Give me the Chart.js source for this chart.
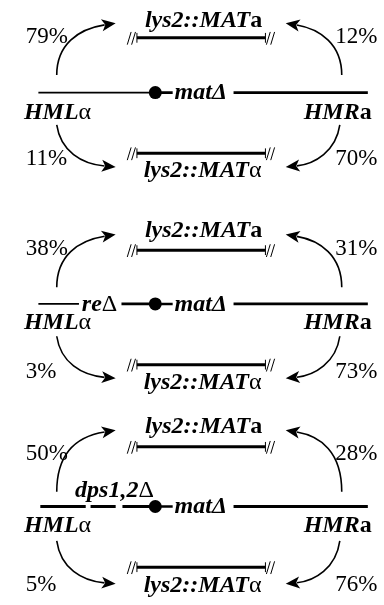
<!DOCTYPE html>
<html><head><meta charset="utf-8">
<script src="https://cdn.jsdelivr.net/npm/chart.js@4/dist/chart.umd.min.js"></script>
<style>html,body{margin:0;padding:0;background:#fff;overflow:hidden}canvas{display:block}</style>
</head><body><canvas id="c" width="384" height="605"></canvas>
<script>
// ---- data ----
const strains = ['wild type', 'reΔ', 'dps1,2Δ'];
const hmlToMATa = [79, 38, 50];       // HMLα -> lys2::MATa (top left)
const hmrToMATa = [12, 31, 28];       // HMRa -> lys2::MATa (top right)
const hmlToMATalpha = [11, 3, 5];     // HMLα -> lys2::MATα (bottom left)
const hmrToMATalpha = [70, 73, 76];   // HMRa -> lys2::MATα (bottom right)
const donorLeft = [['HML', 'bi'], ['α', 'r']];
const donorRight = [['HMR', 'bi'], ['a', 'b']];
const recipTop = [['lys2::MAT', 'bi'], ['a', 'b']];
const recipBottom = [['lys2::MAT', 'bi'], ['α', 'r']];
const matLabel = [['matΔ', 'bi']];
const deletionLabels = [null, [['re', 'bi'], ['Δ', 'r']], [['dps1,2', 'bi'], ['Δ', 'r']]];
const xRange = [0, 384];
const yRange = [0, 605];

// ---- layout (pixel geometry of each panel) ----
const G = [
  {tt:21, tb:32, pt:37, as:70, at:17, m:88, lb:115, bs:121, pb:162, bb:150, bt:174, ab:164},
  {tt:236, tb:249, pt:254, as:287, at:233, m:304, lb:330, bs:337, pb:380, bb:366, bt:391, ab:380},
  {tt:436, tb:450, pt:463, as:496, at:433, m:511, lb:537, bs:546, pb:597, bb:573, bt:598, ab:590}
];
const X = {lineL:33, lineR:374, dot:154, matL:174, gapR:235, barL:135, barR:268, pctL:20, pctR:384,
  hmlX:18, hmrX:378, arrL:52, arrR:347, tipL:113, tipR:289, textC:204};

const datasets = [];
function seg(x1, x2, y, w) {
  datasets.push({type:'line', data:[{x:x1,y:y},{x:x2,y:y}], borderColor:'#000', borderWidth:w,
    pointRadius:0, showLine:true, borderCapStyle:'butt', fill:false});
}
G.forEach((g, i) => {
  if (i === 0) seg(X.lineL, X.dot, g.m, 1.8);
  if (i === 1) { seg(X.lineL, 75, g.m, 1.8); seg(119, X.dot, g.m, 2.8); }
  if (i === 2) { seg(35, 82, g.m, 3); seg(87, 113, g.m, 3); seg(120, X.dot, g.m, 3); }
  seg(X.dot, X.matL - 2, g.m, 2.6);
  seg(X.gapR, X.lineR, g.m, 2.8);
  seg(X.barL, X.barR, g.tb, 3);
  seg(X.barL, X.barR, g.bb, 3);
  datasets.push({type:'scatter', data:[{x:X.dot, y:g.m}], pointRadius:6.5, pointBackgroundColor:'#000',
    pointBorderColor:'#000', borderWidth:0});
});

const FS = 24;
const FONTS = {bi:`bold italic ${FS}px "Liberation Serif"`, b:`bold ${FS}px "Liberation Serif"`,
  r:`${FS}px "Liberation Serif"`, i:`italic ${FS}px "Liberation Serif"`};
function runs(ctx, parts, x, y, align) {
  let w = 0;
  parts.forEach(p => { ctx.font = FONTS[p[1]]; w += ctx.measureText(p[0]).width; });
  let cx = align === 'center' ? x - w / 2 : align === 'right' ? x - w : x;
  ctx.textAlign = 'left'; ctx.textBaseline = 'alphabetic';
  parts.forEach(p => { ctx.font = FONTS[p[1]]; ctx.fillText(p[0], cx, y); cx += ctx.measureText(p[0]).width; });
}

const diagram = {
  id: 'diagram',
  afterDatasetsDraw(chart) {
    const ctx = chart.ctx, sx = chart.scales.x, sy = chart.scales.y;
    const px = v => sx.getPixelForValue(v), py = v => sy.getPixelForValue(v);
    ctx.save();
    ctx.fillStyle = '#000'; ctx.strokeStyle = '#000';
    function arrow(p0, c1, c2, p3) {
      ctx.lineWidth = 1.6;
      const ang = Math.atan2(py(p3[1]) - py(c2[1]), px(p3[0]) - px(c2[0]));
      const len = 14, hw = 6;
      const bx = px(p3[0]) - Math.cos(ang) * len * 0.8, by = py(p3[1]) - Math.sin(ang) * len * 0.8;
      ctx.beginPath();
      ctx.moveTo(px(p0[0]), py(p0[1]));
      ctx.bezierCurveTo(px(c1[0]), py(c1[1]), px(c2[0]), py(c2[1]), bx, by);
      ctx.stroke();
      const tx = px(p3[0]), ty = py(p3[1]);
      ctx.beginPath();
      ctx.moveTo(tx, ty);
      ctx.lineTo(tx - Math.cos(ang) * len - Math.sin(ang) * hw, ty - Math.sin(ang) * len + Math.cos(ang) * hw);
      ctx.lineTo(tx - Math.cos(ang) * len * 0.75, ty - Math.sin(ang) * len * 0.75);
      ctx.lineTo(tx - Math.cos(ang) * len + Math.sin(ang) * hw, ty - Math.sin(ang) * len - Math.cos(ang) * hw);
      ctx.closePath(); ctx.fill();
    }
    function breaks(y) {
      ctx.lineWidth = 1;
      [[X.barL, -1], [X.barR, 1]].forEach(([bx, s]) => {
        ctx.beginPath(); ctx.moveTo(px(bx), py(y - 5)); ctx.lineTo(px(bx), py(y + 5)); ctx.stroke();
        const o = s < 0 ? bx - 10 : bx + 1;
        [0, 4.5].forEach(d => {
          ctx.beginPath(); ctx.moveTo(px(o + d), py(y + 7)); ctx.lineTo(px(o + d + 4), py(y - 6)); ctx.stroke();
        });
      });
    }
    G.forEach((g, i) => {
      breaks(g.tb); breaks(g.bb);
      runs(ctx, recipTop, px(X.textC), py(g.tt), 'center');
      runs(ctx, recipBottom, px(X.textC - 1), py(g.bt), 'center');
      runs(ctx, matLabel, px(X.matL), py(g.m + 7), 'left');
      runs(ctx, donorLeft, px(X.hmlX), py(g.lb), 'left');
      runs(ctx, donorRight, px(X.hmrX), py(g.lb), 'right');
      if (i === 1) runs(ctx, deletionLabels[1], px(78), py(g.m + 7), 'left');
      if (i === 2) runs(ctx, deletionLabels[2], px(71), py(g.m - 10), 'left');
      ctx.font = '23px "Liberation Serif"'; ctx.textAlign = 'left';
      ctx.fillText(hmlToMATa[i] + '%', px(X.pctL), py(g.pt));
      ctx.fillText(hmlToMATalpha[i] + '%', px(X.pctL), py(g.pb));
      ctx.textAlign = 'right';
      ctx.fillText(hmrToMATa[i] + '%', px(X.pctR), py(g.pt));
      ctx.fillText(hmrToMATalpha[i] + '%', px(X.pctR), py(g.pb));
      arrow([X.arrL, g.as], [X.arrL, g.at + 22], [X.arrL + 22, g.at + 6], [X.tipL, g.at]);
      arrow([X.arrR, g.as], [X.arrR, g.at + 22], [X.arrR - 22, g.at + 6], [X.tipR, g.at]);
      arrow([X.arrL, g.bs], [X.arrL + 4, g.ab - 16], [X.arrL + 26, g.ab - 3], [X.tipL, g.ab]);
      arrow([X.arrR - 2, g.bs], [X.arrR - 6, g.ab - 16], [X.arrR - 28, g.ab - 3], [X.tipR, g.ab]);
    });
    ctx.restore();
  }
};

new Chart(document.getElementById('c'), {
  type: 'scatter',
  data: { datasets },
  options: {
    responsive: false, animation: false, devicePixelRatio: 1,
    layout: { padding: 0 },
    plugins: { legend: { display: false }, tooltip: { enabled: false }, title: { display: false } },
    scales: {
      x: { type: 'linear', min: xRange[0], max: xRange[1], display: false },
      y: { type: 'linear', min: yRange[0], max: yRange[1], reverse: true, display: false }
    }
  },
  plugins: [diagram]
});
</script>
</body></html>
